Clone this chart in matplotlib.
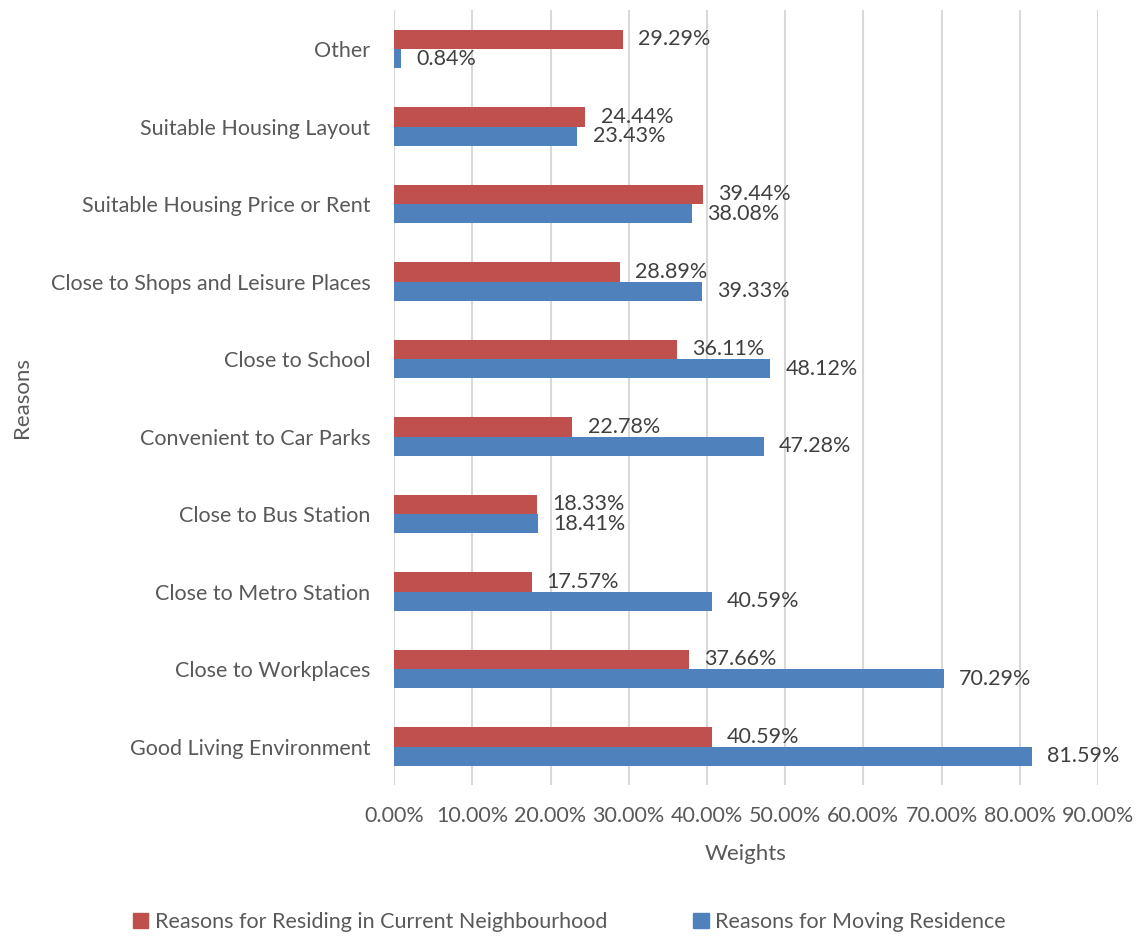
import matplotlib.pyplot as plt
import numpy as np
from matplotlib.patches import Patch

reasons = [
    "Good Living Environment",
    "Close to Workplaces",
    "Close to Metro Station",
    "Close to Bus Station",
    "Convenient to Car Parks",
    "Close to School",
    "Close to Shops and Leisure Places",
    "Suitable Housing Price or Rent",
    "Suitable Housing Layout",
    "Other",
]
residing = [40.59, 37.66, 17.57, 18.33, 22.78, 36.11, 28.89, 39.44, 24.44, 29.29]
moving = [81.59, 70.29, 40.59, 18.41, 47.28, 48.12, 39.33, 38.08, 23.43, 0.84]
series_names = ["Reasons for Residing in Current Neighbourhood", "Reasons for Moving Residence"]
red = "#c0504d"
blue = "#4f81bd"

plt.rcParams["font.family"] = ["Lato", "DejaVu Sans"]

fig = plt.figure(figsize=(11.39, 9.36), dpi=100)
ax = fig.add_axes([0.346, 0.161, 0.618, 0.828])

y = np.arange(len(reasons))
h = 0.25
ax.barh(y + h / 2, residing, height=h, color=red, zorder=3)
ax.barh(y - h / 2, moving, height=h, color=blue, zorder=3)

for yi, r, m in zip(y, residing, moving):
    ax.annotate(f"{r:.2f}%", (r, yi + h / 2), xytext=(11, 0), textcoords="offset points",
                va="center", ha="left", fontsize=15.5, color="#404040")
    ax.annotate(f"{m:.2f}%", (m, yi - h / 2), xytext=(11, 0), textcoords="offset points",
                va="center", ha="left", fontsize=15.5, color="#404040")

ax.set_xlim(0, 90)
ax.set_ylim(-0.5, len(reasons) - 0.5)
ax.set_xticks(np.arange(0, 91, 10))
ax.set_xticklabels([f"{v:.2f}%" for v in range(0, 91, 10)])
ax.set_yticks(y)
ax.set_yticklabels(reasons)
ax.tick_params(axis="both", length=0, labelsize=15.5, labelcolor="#595959")
ax.tick_params(axis="x", pad=15)
ax.tick_params(axis="y", pad=17)
ax.grid(axis="x", color="#d9d9d9", linewidth=1.5, zorder=0)
for s in ax.spines.values():
    s.set_visible(False)

ax.set_xlabel("Weights", fontsize=16, color="#595959", labelpad=13)
ax.set_ylabel("Reasons", fontsize=16, color="#595959")
ax.yaxis.set_label_coords(-0.515, 0.5)

handles = [Patch(color=red), Patch(color=blue)]
fig.legend(handles, series_names, loc="center", bbox_to_anchor=(0.5, 0.015), ncol=2,
           frameon=False, fontsize=15.5, labelcolor="#595959", handlelength=0.7,
           handleheight=0.7, handletextpad=0.3, columnspacing=4.0)

fig.savefig("out.png", dpi=100)
